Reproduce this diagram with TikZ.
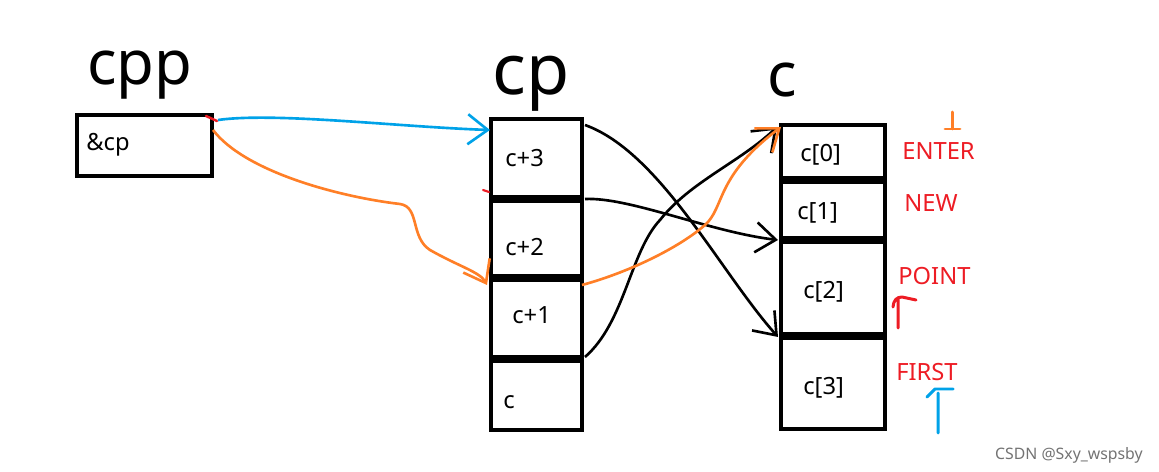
\documentclass[tikz,border=0pt]{standalone}
\usepackage{fontspec}
\setmainfont{Noto Sans}
\usetikzlibrary{arrows.meta,calc}
\definecolor{paintred}{RGB}{237,28,36}
\definecolor{paintblue}{RGB}{0,162,232}
\definecolor{paintorange}{RGB}{255,127,39}

\begin{document}
\begin{tikzpicture}[
		cell/.style={
			draw=black,
			line width=2.4pt,
			fill=white,
			inner sep=0pt,
			outer sep=0pt
		},
		sepline/.style={
			draw=black,
			line width=4pt
		},
		celltext/.style={
			anchor=west,
			inner sep=0pt,
			font=\fontsize{13.5}{16}\selectfont
		},
		hand/.style={
			anchor=base,
			inner sep=0pt,
			font=\fontsize{35}{35}\selectfont
		},
		tagtext/.style={
			anchor=west,
			inner sep=0pt,
			text=paintred,
			font=\fontsize{13.5}{16}\selectfont
		},
		link/.style={
			-{Straight Barb[length=4mm,width=6mm]},
			draw=black,
			line width=1.5pt
		},
		stroke/.style={
			line width=1.7pt,
			line cap=round,
			line join=round
		}
	]
		\useasboundingbox (0,0) rectangle (23.18,9.44);

		% pointer to pointer
		\node[cell,minimum width=27mm,minimum height=12.2mm] (cpp) at (2.89,6.53) {};
		\node[celltext] (cpptext) at (1.72,6.54) {\&cp};
		\node[hand] (cpplabel) at (2.80,7.74) {cpp};

		% pointer column
		\foreach \n/\y/\h in {cp3/6.26/16.0,cp2/4.67/15.8,cp1/3.07/16.2,cp0/1.55/14.2}
			\node[cell,minimum width=18.2mm,minimum height=\h mm] (\n) at (10.73,\y) {};
		\node[hand,font=\fontsize{40}{40}\selectfont] (cplabel) at (10.62,7.54) {cp};

		% array column
		\foreach \n/\y/\h in {c0/6.39/11.0,c1/5.24/12.0,c2/3.68/19.2,c3/1.79/18.6}
			\node[cell,minimum width=20.8mm,minimum height=\h mm] (\n) at (16.66,\y) {};
		\node[hand] (clabel) at (15.64,7.50) {c};

		\foreach \a in {cp3,cp2,cp1,c0,c1,c2}
			\draw[sepline] (\a.south west) -- (\a.south east);

		\node[celltext] (t3) at (10.10,6.28) {c+3};
		\node[celltext] (t2) at (10.10,4.50) {c+2};
		\node[celltext] (t1) at (10.24,3.14) {c+1};
		\node[celltext] (t0) at (10.06,1.40) {c};

		\node[celltext] (a0) at (16.00,6.34) {c[0]};
		\node[celltext] (a1) at (15.94,5.18) {c[1]};
		\node[celltext] (a2) at (16.06,3.60) {c[2]};
		\node[celltext] (a3) at (16.06,1.68) {c[3]};

		\node[tagtext] (enter) at (18.04,6.42) {ENTER};
		\node[tagtext] (new) at (18.08,5.38) {NEW};
		\node[tagtext] (point) at (17.96,3.92) {POINT};
		\node[tagtext] (first) at (17.92,2.00) {FIRST};

		% cpp -> cp
		\draw[link,draw=paintblue] ($(cpp.north east)+(0.12,-0.10)$)
			.. controls (5.5,7.2) and (8.0,6.9) .. ($(cp3.north west)+(-0.02,-0.22)$);
		\draw[link,draw=paintorange] ($(cpp.north east)+(0.02,-0.30)$)
			.. controls (4.9,6.0) and (6.8,5.5) .. (8.0,5.36)
			.. controls (8.4,5.3) and (8.2,4.7) .. (8.6,4.44)
			.. controls (9.2,4.1) and (9.6,4.0) .. ($(cp1.north west)+(-0.08,-0.14)$);

		% cp -> c
		\draw[link] ($(cp3.north east)+(0.06,-0.12)$)
			.. controls (13.2,6.4) and (14.4,4.0) .. ($(c3.north west)+(-0.06,-0.02)$);
		\draw[link] ($(cp2.north east)+(0.06,0)$)
			.. controls (12.6,5.5) and (14.2,4.8) .. ($(c2.north west)+(-0.06,0)$);
		\draw[link] ($(cp0.north east)+(0.06,0.04)$)
			.. controls (12.5,3.0) and (12.6,4.4) .. (13.2,5.04)
			.. controls (13.8,5.8) and (14.8,6.2) .. ($(c0.north west)+(-0.08,-0.04)$);
		\draw[link,draw=paintorange] ($(cp1.north east)+(0,-0.14)$)
			.. controls (12.6,4.0) and (13.6,4.5) .. (14.1,4.94)
			.. controls (14.5,5.3) and (14.3,5.9) .. ($(c0.north west)+(0,-0.04)$);

		% pointer marks
		\draw[stroke,paintorange] (19.04,7.20) -- (19.04,6.86) (18.90,6.86) -- (19.20,6.86);
		\draw[stroke,paintred] (17.96,2.88) -- (17.96,3.46)
			(17.86,3.30) .. controls (17.87,3.44) and (17.94,3.50) .. (18.04,3.50) -- (18.32,3.44);
		\draw[stroke,paintblue] (18.76,0.78) -- (18.76,1.58) (18.54,1.50) -- (18.70,1.66) -- (19.06,1.66);
		\draw[stroke,paintred,line width=1.4pt] ($(cpp.north east)+(-0.12,-0.02)$) -- ++(0.22,-0.10);
		\draw[stroke,paintred,line width=1.2pt] ($(cp3.south west)+(-0.16,0.18)$) -- ++(0.12,-0.04);

		\node[anchor=east,inner sep=0pt,text=black!55,font=\fontsize{9}{11}\selectfont] (wm) at (22.86,0.34) {CSDN @Sxy\_wspsby};
	\end{tikzpicture}
\end{document}
